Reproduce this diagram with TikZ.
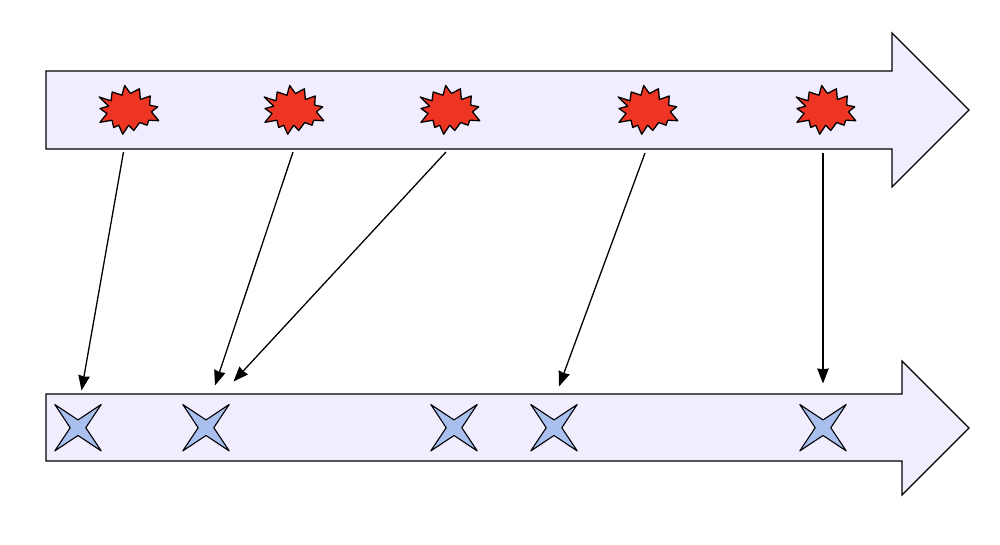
\documentclass[tikz,border=0pt]{standalone}
\usetikzlibrary{arrows.meta}
\definecolor{lav}{HTML}{F2EDFE}
\definecolor{burstred}{HTML}{EE3524}
\definecolor{starblue}{HTML}{A9C0EE}
\tikzset{
  x=1pt,y=-1pt,
  band/.style={draw=black,fill=lav,line width=1.2pt,line join=miter},
  burstshape/.style={draw=black,fill=burstred,line width=1.3pt,line join=round},
  starshape/.style={draw=black,fill=starblue,line width=1.1pt,line join=round},
  link/.style={draw=black,line width=1.3pt,-{Stealth[length=15pt,width=11.5pt,inset=0.8pt]}},
  pics/burst/.style={code={
    \draw[burstshape] (-29.5,-12.5)--(-17.7,-8.7)--(-16.5,-17.5)--(-6.7,-14.3)--(-4,-24)--(1.7,-16)--(10.7,-20.7)--(11.7,-10)--(21.5,-13.5)--(21,-4.3)--(29,-2.7)--(22.7,2.3)--(30,11.2)--(20,10.7)--(18.3,15.7)--(11,13)--(5,21)--(0,15.7)--(-6,24.7)--(-10,15.7)--(-15,18)--(-16.7,10.7)--(-28.7,12.8)--(-21.7,4)--(-28.7,-1)--(-20,-3.3)--cycle;
  }},
  pics/fourstar/.style={code={
    \draw[starshape] (-23.2,-23.2)--(0,-7.8)--(23.2,-23.2)--(7.8,0)--(23.2,23.2)--(0,7.8)--(-23.2,23.2)--(-7.8,0)--cycle;
  }}
}
\begin{document}
\begin{tikzpicture}
\useasboundingbox (0,0) rectangle (1000,544);
\draw[band] (46,71)--(892,71)--(892,33)--(969,110)--(892,187)--(892,149)--(46,149)--cycle;
\draw[band] (46,394)--(902,394)--(902,361)--(969,428)--(902,495)--(902,461)--(46,461)--cycle;
\pic at (128.7,109.5) {burst};
\pic at (293.7,109.5) {burst};
\pic at (449.7,109.5) {burst};
\pic at (647.7,109.5) {burst};
\pic at (825.7,109.5) {burst};
\pic at (78,427.7) {fourstar};
\pic at (206,427.7) {fourstar};
\pic at (454,427.7) {fourstar};
\pic at (554,427.7) {fourstar};
\pic at (823,427.7) {fourstar};
\coordinate (a1) at (123.5,152);
\coordinate (b1) at (81.5,390.5);
\coordinate (a2) at (293,152);
\coordinate (b2) at (215,385.5);
\coordinate (a3) at (446,152);
\coordinate (b3) at (233.5,381.5);
\coordinate (a4) at (645,153);
\coordinate (b4) at (559,386.5);
\coordinate (a5) at (823,153);
\coordinate (b5) at (823,383.5);
\draw[link] (a1)--(b1);
\draw[link] (a2)--(b2);
\draw[link] (a3)--(b3);
\draw[link] (a4)--(b4);
\draw[link] (a5)--(b5);
\end{tikzpicture}
\end{document}
